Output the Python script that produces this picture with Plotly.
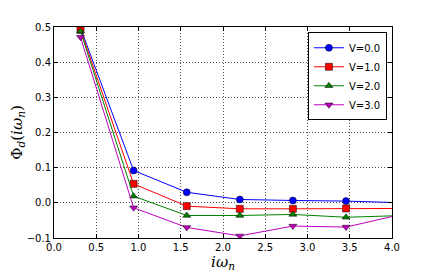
import plotly.graph_objects as go

x_vals = [0.314, 0.942, 1.571, 2.199, 2.827, 3.456, 4.084]
v0 = [0.497, 0.092, 0.030, 0.0095, 0.0067, 0.005, 0.0004]
v1 = [0.492, 0.054, -0.0095, -0.017, -0.017, -0.016, -0.016]
v2 = [0.488, 0.019, -0.036, -0.036, -0.033, -0.041, -0.0364]
v3 = [0.471, -0.014, -0.070, -0.094, -0.066, -0.069, -0.0344]
names = ["V=0.0", "V=1.0", "V=2.0", "V=3.0"]
colors = ["#0000ff", "#ff0000", "#008000", "#bf00bf"]
symbols = ["circle", "square", "triangle-up", "triangle-down"]
x_ticks = [0.0, 0.5, 1.0, 1.5, 2.0, 2.5, 3.0, 3.5, 4.0]
y_ticks = [-0.1, 0.0, 0.1, 0.2, 0.3, 0.4, 0.5]

fig = go.Figure()
for ys, nm, c, s in zip([v0, v1, v2, v3], names, colors, symbols):
    fig.add_trace(go.Scatter(
        x=x_vals, y=ys, name=nm, mode="lines+markers",
        line=dict(color=c, width=1),
        marker=dict(symbol=s, size=7, color=c, line=dict(color="black", width=0.5)),
    ))

axis_common = dict(
    showline=True, linecolor="black", linewidth=1, mirror="ticks",
    ticks="inside", ticklen=4, tickcolor="black",
    showgrid=True, gridcolor="#555555", griddash="1px,2px", gridwidth=0.7,
    zeroline=False, tickfont=dict(family="DejaVu Sans", size=10, color="black"),
    tickformat=".1f", automargin=False,
)
fig.update_xaxes(range=[0, 4], tickvals=x_ticks,
                 title=dict(text="<i>iω</i><sub><i>n</i></sub>", font=dict(family="DejaVu Serif", size=15, color="black"), standoff=0),
                 **axis_common)
fig.update_yaxes(range=[-0.1, 0.5], tickvals=y_ticks,
                 title=dict(text="Φ<sub><i>d</i></sub>(<i>iω</i><sub><i>n</i></sub>)", font=dict(family="DejaVu Serif", size=15, color="black"), standoff=4),
                 **axis_common)
fig.update_layout(
    width=428, height=265,
    margin=dict(l=46, r=44, t=19, b=35),
    plot_bgcolor="white", paper_bgcolor="white",
    legend=dict(x=0.985, y=0.975, xanchor="right", yanchor="top",
                bordercolor="black", borderwidth=1, bgcolor="white",
                font=dict(family="DejaVu Sans", size=10, color="black"),
                tracegroupgap=0, itemwidth=30),
    showlegend=True,
)
fig.write_html("out.html")
